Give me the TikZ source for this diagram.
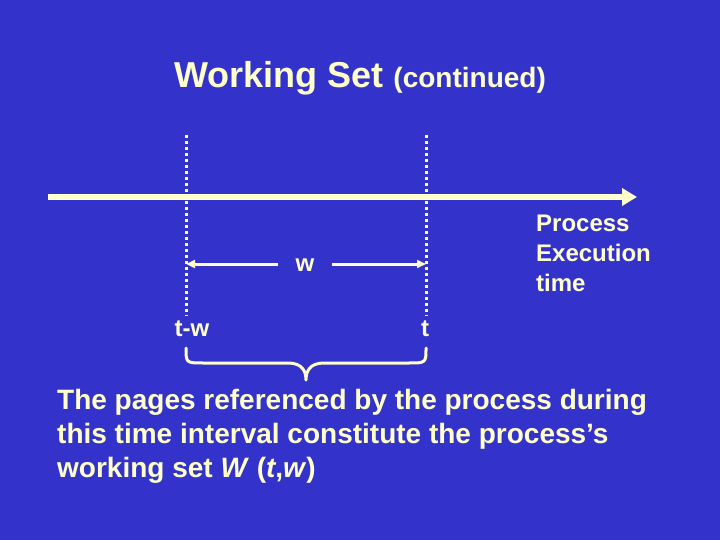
\documentclass[tikz,border=0pt]{standalone}
\usepackage{fontspec}
\setmainfont{Liberation Sans}
\usetikzlibrary{arrows.meta,positioning}
\definecolor{slideblue}{RGB}{51,51,204}
\definecolor{paleyel}{RGB}{255,255,204}

\begin{document}
\begin{tikzpicture}[
  x=1pt,y=-1pt,
  font=\bfseries,
  lbl/.style={text=paleyel,inner sep=0pt,font=\bfseries\fontsize{24}{30}\selectfont},
  timeline/.style={draw=paleyel,line width=6pt,-{Triangle[length=15pt,width=17pt]}},
  marker/.style={draw=paleyel,line width=3pt,dash pattern=on 3pt off 3pt},
  span/.style={draw=paleyel,line width=3pt,-{Triangle[length=9pt,width=8pt]}},
  brace/.style={draw=paleyel,line width=3pt,line cap=round,line join=round}
]
\fill[slideblue] (0,0) rectangle (720,540);
\useasboundingbox (0,0) rectangle (720,540);

% title
\node[lbl,anchor=base,font=\bfseries\fontsize{36}{40}\selectfont] (title) at (360,88)
  {Working Set {\fontsize{28}{32}\selectfont(continued)}};

% time axis
\coordinate (axstart) at (48,197);
\coordinate (axend) at (637,197);
\draw[timeline] (axstart) -- (axend);
\node[lbl,anchor=north west,align=left] (exec) at (536,215) {Process\\Execution\\time};

% window markers
\coordinate (twtop) at (186,135);
\coordinate (twbot) at (186,316);
\coordinate (ttop) at (426,135);
\coordinate (tbot) at (426,316);
\draw[marker] (twtop) -- (twbot);
\draw[marker] (ttop) -- (tbot);
\node[lbl,anchor=base] (tw) at (192,336) {t-w};
\node[lbl,anchor=base] (t) at (425,336) {t};

% window size
\node[lbl,anchor=base,inner xsep=17pt] (w) at (305,271) {w};
\draw[span] (w.west |- 0,264) -- (twbot |- 0,264);
\draw[span] (w.east |- 0,264) -- (tbot |- 0,264);

% brace
\coordinate (brl) at (186,348);
\coordinate (brr) at (426,348);
\coordinate (brtip) at (306,380);
\draw[brace] (brl) .. controls (186,363) .. (204,363) -- (288,363)
  .. controls (302,363) and (306,371) .. (brtip)
  .. controls (306,371) and (310,363) .. (324,363) -- (408,363)
  .. controls (426,363) .. (brr);

% explanation
\node[lbl,anchor=north west,align=left,font=\bfseries\fontsize{28}{34}\selectfont] (note) at (57,389)
  {The pages referenced by the process during\\
   this time interval constitute the process’s\\
   working set \textit{W} (\textit{t},\textit{w})};
\end{tikzpicture}
\end{document}
